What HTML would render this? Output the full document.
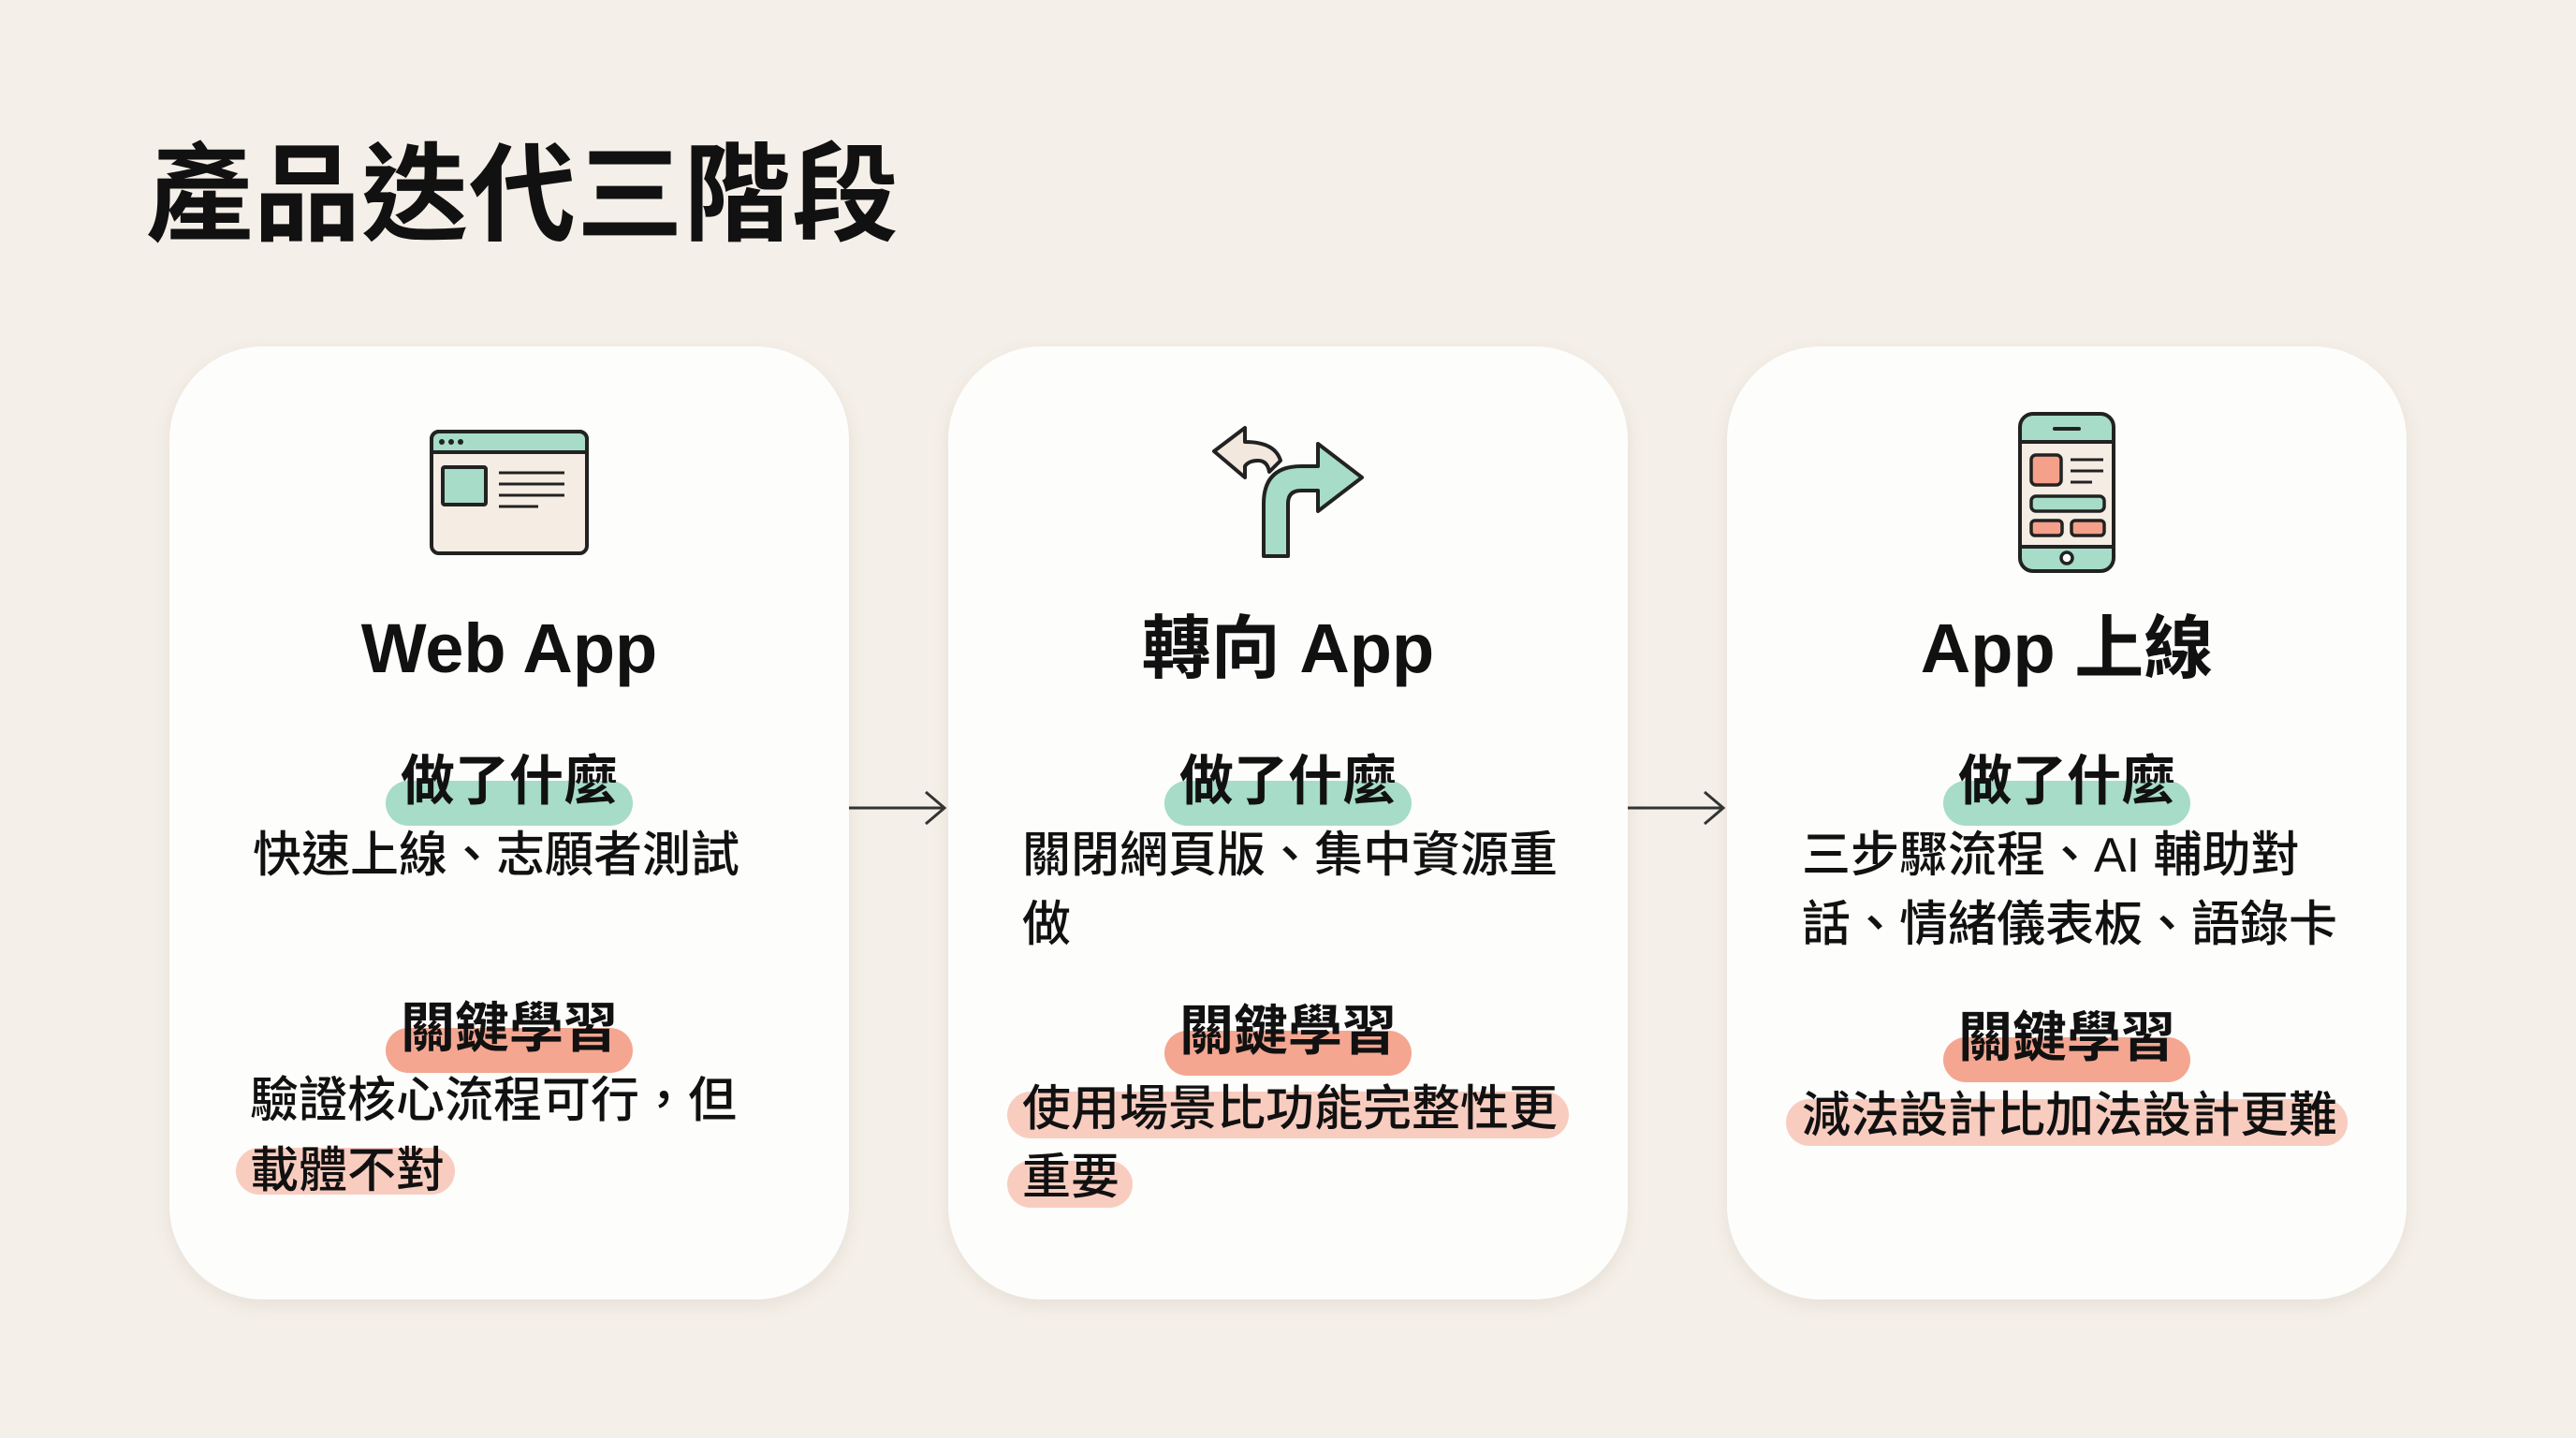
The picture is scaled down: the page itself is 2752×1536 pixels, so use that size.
<!DOCTYPE html>
<html><head><meta charset="utf-8">
<style>
html,body{margin:0;padding:0}
body{width:2752px;height:1536px;background:#f4efe8;position:relative;overflow:hidden;font-family:"Liberation Sans","Noto Sans CJK TC",sans-serif;color:#111}
.title{position:absolute;left:156px;top:140px;font-size:114px;font-weight:700;line-height:140px;letter-spacing:1px}
.card{position:absolute;top:370px;width:726px;height:1018px;background:#fdfdfc;border-radius:100px;box-shadow:0 6px 18px rgba(120,100,80,0.10)}
.ct{position:absolute;width:726px;text-align:center;font-size:74px;font-weight:700;line-height:100px}
.h{position:absolute;font-size:58px;font-weight:700;line-height:70px;transform:translateX(-50%);padding:0 16px;white-space:nowrap}
.h span{position:relative;z-index:1}
.h:before{content:"";position:absolute;left:0;right:0;top:34px;height:48px;border-radius:24px}
.hm:before{background:#a6dcc8}
.hs:before{background:#f4a691}
.t{position:absolute;font-size:52px;font-weight:500;line-height:70px;white-space:nowrap;letter-spacing:0px}
.hl{position:relative;z-index:1}
.hlb{position:absolute;height:50px;border-radius:25px;background:#f8cdc0}
</style></head><body>
<div class="title">產品迭代三階段</div>

<!-- card 1 -->
<div class="card" style="left:181px"></div>
<svg style="position:absolute;left:455px;top:455px" width="180" height="145" viewBox="0 0 180 145">
<rect x="6" y="6" width="166" height="130" rx="8" fill="#f5ede4" stroke="#222" stroke-width="4"/>
<path d="M6 28 V14 a8 8 0 0 1 8 -8 H164 a8 8 0 0 1 8 8 V28 Z" fill="#a6dcc8" stroke="#222" stroke-width="4"/>
<circle cx="17" cy="17" r="3" fill="#222"/><circle cx="27" cy="17" r="3" fill="#222"/><circle cx="37" cy="17" r="3" fill="#222"/>
<rect x="18" y="44" width="46" height="40" rx="2" fill="#a6dcc8" stroke="#222" stroke-width="4"/>
<line x1="78" y1="50" x2="148" y2="50" stroke="#222" stroke-width="3"/>
<line x1="78" y1="62" x2="148" y2="62" stroke="#222" stroke-width="3"/>
<line x1="78" y1="74" x2="148" y2="74" stroke="#222" stroke-width="3"/>
<line x1="78" y1="86" x2="120" y2="86" stroke="#222" stroke-width="3"/>
</svg>
<div class="ct" style="left:181px;top:643px">Web App</div>
<div class="h hm" style="left:544px;top:800px"><span>做了什麼</span></div>
<div class="t" style="left:270px;top:879px">快速上線、志願者測試</div>
<div class="h hs" style="left:544px;top:1064px"><span>關鍵學習</span></div>
<div class="t" style="left:267px;top:1141px">驗證核心流程可行，但</div>
<div class="hlb" style="left:252px;top:1226px;width:234px"></div>
<div class="t" style="left:267px;top:1216px"><span class="hl">載體不對</span></div>

<!-- arrows -->
<svg style="position:absolute;left:905px;top:838px" width="110" height="50"><line x1="2" y1="25" x2="104" y2="25" stroke="#333" stroke-width="3"/><polyline points="84,8 104,25 84,42" fill="none" stroke="#333" stroke-width="3"/></svg>
<svg style="position:absolute;left:1737px;top:838px" width="110" height="50"><line x1="2" y1="25" x2="104" y2="25" stroke="#333" stroke-width="3"/><polyline points="84,8 104,25 84,42" fill="none" stroke="#333" stroke-width="3"/></svg>

<!-- card 2 -->
<div class="card" style="left:1013px"></div>
<svg style="position:absolute;left:1250px;top:420px" width="250" height="200" viewBox="0 0 250 200">
<path d="M47 62 L80 37 V52 Q112 52 118 72 L106 84 Q104 72 94 72 Q84 72 80 78 V90 Z" fill="#f3e8dd" stroke="#222" stroke-width="4" stroke-linejoin="round"/>
<path d="M100 174 V118 Q100 78 140 78 H158 V54 L205 90 L158 126 V104 H140 Q126 104 126 118 V174 Z" fill="#a6dcc8" stroke="#222" stroke-width="4" stroke-linejoin="round"/>
</svg>
<div class="ct" style="left:1013px;top:643px">轉向 App</div>
<div class="h hm" style="left:1376px;top:800px"><span>做了什麼</span></div>
<div class="t" style="left:1092px;top:879px">關閉網頁版、集中資源重</div>
<div class="t" style="left:1092px;top:953px">做</div>
<div class="h hs" style="left:1376px;top:1067px"><span>關鍵學習</span></div>
<div class="hlb" style="left:1076px;top:1166px;width:600px"></div>
<div class="t" style="left:1092px;top:1150px"><span class="hl">使用場景比功能完整性更</span></div>
<div class="hlb" style="left:1076px;top:1240px;width:134px"></div>
<div class="t" style="left:1092px;top:1223px"><span class="hl">重要</span></div>

<!-- card 3 -->
<div class="card" style="left:1845px"></div>
<svg style="position:absolute;left:2150px;top:434px" width="116" height="184" viewBox="0 0 116 184">
<rect x="8" y="8" width="100" height="168" rx="14" fill="#a6dcc8" stroke="#222" stroke-width="4"/>
<rect x="8" y="38" width="100" height="112" fill="#f5ede4" stroke="#222" stroke-width="4"/>
<line x1="45" y1="24" x2="71" y2="24" stroke="#222" stroke-width="4" stroke-linecap="round"/>
<circle cx="58" cy="162" r="6" fill="#fff" stroke="#222" stroke-width="3.5"/>
<rect x="20" y="52" width="32" height="32" rx="5" fill="#f4a08a" stroke="#222" stroke-width="3.5"/>
<line x1="62" y1="57" x2="97" y2="57" stroke="#222" stroke-width="3"/>
<line x1="62" y1="69" x2="97" y2="69" stroke="#222" stroke-width="3"/>
<line x1="62" y1="81" x2="85" y2="81" stroke="#222" stroke-width="3"/>
<rect x="20" y="96" width="78" height="16" rx="5" fill="#a6dcc8" stroke="#222" stroke-width="3.5"/>
<rect x="20" y="122" width="33" height="16" rx="4" fill="#f4a08a" stroke="#222" stroke-width="3.5"/>
<rect x="63" y="122" width="35" height="16" rx="4" fill="#f4a08a" stroke="#222" stroke-width="3.5"/>
</svg>
<div class="ct" style="left:1845px;top:643px">App 上線</div>
<div class="h hm" style="left:2208px;top:800px"><span>做了什麼</span></div>
<div class="t" style="left:1925px;top:879px">三步驟流程、AI 輔助對</div>
<div class="t" style="left:1925px;top:953px">話、情緒儀表板、語錄卡</div>
<div class="h hs" style="left:2208px;top:1074px"><span>關鍵學習</span></div>
<div class="hlb" style="left:1908px;top:1174px;width:600px"></div>
<div class="t" style="left:1925px;top:1157px"><span class="hl">減法設計比加法設計更難</span></div>
</body></html>
